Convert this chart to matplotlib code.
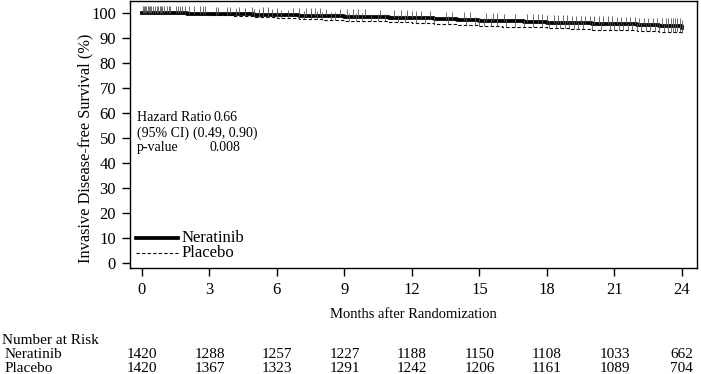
import numpy as np
import matplotlib
matplotlib.use('Agg')
import matplotlib.pyplot as plt
from matplotlib.lines import Line2D

#---------------------------
# data
months = [0, 1, 2, 3, 4, 5, 6, 7, 8, 9, 10, 11, 12, 13, 14, 15, 16, 17, 18, 19, 20, 21, 22, 23, 24]
neratinib = [100, 99.9, 99.8, 99.6, 99.5, 99.4, 99.2, 99.0, 98.8, 98.6, 98.4, 98.2, 97.9,
             97.6, 97.3, 97.0, 96.8, 96.5, 96.2, 96.0, 95.7, 95.5, 95.2, 94.9, 94.2]
placebo = [100, 99.9, 99.7, 99.3, 98.9, 98.5, 98.1, 97.7, 97.3, 97.0, 96.7, 96.4, 96.0,
           95.7, 95.3, 94.9, 94.6, 94.3, 94.0, 93.7, 93.4, 93.2, 92.9, 92.6, 92.2]

# censoring times (approx.)
ner_censor = [0.05, 0.1, 0.15, 0.2, 0.25, 0.3, 0.35, 0.4, 0.5, 0.6, 0.65, 0.7, 0.8, 0.85, 0.9,
              1.0, 1.1, 1.2, 1.25, 1.5, 1.6, 1.7, 1.8, 1.9, 2.1, 2.3, 2.6, 2.7, 2.8, 3.4, 3.9,
              4.3, 4.9, 5.4, 5.6, 6.0, 6.7, 7.0, 7.3, 7.5, 7.7, 7.9, 8.2, 8.8, 9.1, 9.4, 9.6,
              9.9, 10.6, 11.2, 11.5, 11.8, 12.0, 12.2, 12.4, 12.8, 13.5, 13.8, 14.3, 14.6,
              15.3, 15.6, 15.8, 16.1, 16.6, 17.1, 17.4, 17.6, 17.8, 18.0, 18.3, 18.5, 18.7,
              18.9, 19.1, 19.3, 19.5, 19.7, 19.9, 20.1, 20.3, 20.5, 20.7, 20.9, 21.1, 21.3,
              21.5, 21.7, 21.9, 22.1, 22.3, 22.5, 22.7, 22.9, 23.1, 23.3, 23.4, 23.5, 23.6,
              23.7, 23.8, 23.9, 24.0]
pla_censor = [3.3, 3.8, 4.2, 4.6, 5.0, 5.2, 5.4, 5.6, 5.8, 6.0, 6.2, 6.5, 7.0, 7.2, 7.5,
              7.8, 8.0, 8.4, 8.6, 9.2, 9.5, 9.8, 10.2, 10.5, 10.8, 11.4, 11.7, 12.2, 12.6,
              13.0, 13.6, 14.4, 14.8, 15.0, 15.2, 15.5, 15.8, 16.2, 16.6, 17.0, 17.4, 17.8,
              18.1, 18.4, 18.6, 18.8, 19.0, 19.2, 19.4, 19.6, 20.0, 20.4, 20.8, 21.0, 21.2,
              21.4, 21.6, 21.8, 22.0, 22.2, 22.4, 22.6, 22.8, 23.0, 23.2, 23.4, 23.5, 23.6,
              23.7, 23.8, 23.9, 24.0]

risk_months = [0, 3, 6, 9, 12, 15, 18, 21, 24]
ner_risk = [1420, 1288, 1257, 1227, 1188, 1150, 1108, 1033, 662]
pla_risk = [1420, 1367, 1323, 1291, 1242, 1206, 1161, 1089, 704]
#---------------------------

plt.rcParams['font.family'] = ['Liberation Serif', 'DejaVu Serif']

fig = plt.figure(figsize=(7.01, 3.74), dpi=100)
ax = fig.add_axes([130/701, 1 - 268/374, 567/701, 267/374])


def surv_at(t, xs, ys):
    i = np.searchsorted(xs, t, side='right') - 1
    return np.asarray(ys)[i]


ax.plot(months, neratinib, color='black', lw=2.7, drawstyle='steps-post')
ax.plot(months, placebo, color='black', lw=0.8, ls=(0, (3, 2)), drawstyle='steps-post')

# censor ticks
yn = surv_at(ner_censor, months, neratinib)
ax.vlines(ner_censor, yn, yn + 3, color='#555555', lw=0.6)
yp = surv_at(pla_censor, months, placebo)
ax.vlines(pla_censor, yp, yp + 3, color='#555555', lw=0.6)

ax.set_xlim(-0.53, 24.67)
ax.set_ylim(-2, 104.9)
ax.set_xticks(risk_months)
ax.set_yticks(range(0, 101, 10))
ax.tick_params(direction='out', length=6, width=1, labelsize=12, pad=4)
for s in ax.spines.values():
    s.set_linewidth(1)
ax.set_xlabel('Months after Randomization', fontsize=10.5, labelpad=7)
ax.set_ylabel('Invasive Disease-free Survival (%)', fontsize=11.8)
ax.yaxis.set_label_coords(-0.064, 0.449)

# legend keys
ax.add_line(Line2D([0.0106, 0.0847], [0.1124, 0.1124], transform=ax.transAxes, color='black', lw=2.7))
ax.add_line(Line2D([0.0106, 0.0847], [0.0562, 0.0562], transform=ax.transAxes, color='black', lw=0.8,
                   ls=(0, (3, 2))))
ax.text(0.0917, 0.1124, 'Neratinib', transform=ax.transAxes, fontsize=12, va='center')
ax.text(0.0917, 0.0562, 'Placebo', transform=ax.transAxes, fontsize=12, va='center')

# hazard ratio box
hfs = 10
ax.text(-0.22, 58.1, 'Hazard Ratio', fontsize=hfs, va='center')
ax.text(3.7, 58.1, '0.66', fontsize=hfs, va='center', ha='center')
ax.text(-0.22, 52.1, '(95% CI)', fontsize=hfs, va='center')
ax.text(3.7, 52.1, '(0.49, 0.90)', fontsize=hfs, va='center', ha='center')
ax.text(-0.22, 46.1, 'p-value', fontsize=hfs, va='center')
ax.text(3.7, 46.1, '0.008', fontsize=hfs, va='center', ha='center')

# number at risk table
fig.text(2/701, 1 - 341/374, 'Number at Risk', fontsize=11, va='center')
fig.text(5/701, 1 - 355/374, 'Neratinib', fontsize=11, va='center')
fig.text(5/701, 1 - 368/374, 'Placebo', fontsize=11, va='center')
for m, n, p in zip(risk_months, ner_risk, pla_risk):
    xf = fig.transFigure.inverted().transform(ax.transData.transform((m, 0)))[0]
    fig.text(xf, 1 - 355/374, str(n), fontsize=11, va='center', ha='center')
    fig.text(xf, 1 - 368/374, str(p), fontsize=11, va='center', ha='center')

fig.savefig('out.png', dpi=100)
